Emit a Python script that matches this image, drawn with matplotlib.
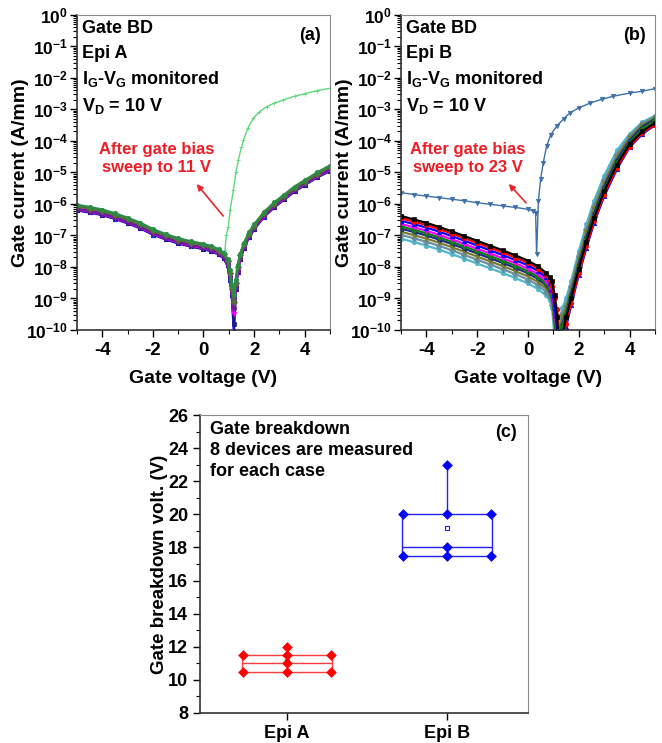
import matplotlib
matplotlib.use('Agg')
import matplotlib.pyplot as plt
import numpy as np
from matplotlib.ticker import LogLocator, FuncFormatter, MultipleLocator, NullFormatter

plt.rcParams['font.family'] = ['Liberation Sans', 'DejaVu Sans']
plt.rcParams['font.weight'] = 'bold'
plt.rcParams['axes.labelweight'] = 'bold'
plt.rcParams['mathtext.fontset'] = 'custom'
plt.rcParams['mathtext.rm'] = 'Liberation Sans:bold'
plt.rcParams['mathtext.bf'] = 'Liberation Sans:bold'
plt.rcParams['mathtext.it'] = 'Liberation Sans:bold:italic'
plt.rcParams['axes.unicode_minus'] = False

# ---- panel (a): Epi A, log10 of gate current (A/mm) vs gate voltage
va = [-5, -4.5, -4, -3.5, -3, -2.5, -2, -1.5, -1, -0.5, 0, 0.3, 0.6, 0.8, 0.95,
      1.05, 1.12, 1.2, 1.28, 1.35, 1.45, 1.6, 1.8, 2.0, 2.4, 2.8, 3.2, 3.6, 4.0, 4.5, 5.0]
a_blue = [-6.2, -6.27, -6.35, -6.47, -6.61, -6.77, -6.97, -7.12, -7.25, -7.35, -7.43, -7.5, -7.6, -7.73, -7.95,
          -8.4, -8.9, -10.0, -8.7, -8.15, -7.75, -7.4, -7.05, -6.8, -6.4, -6.1, -5.85, -5.6, -5.4, -5.15, -4.95]
a_navy = [-6.19, -6.26, -6.34, -6.46, -6.6, -6.76, -6.96, -7.11, -7.24, -7.34, -7.42, -7.49, -7.59, -7.72, -7.94,
          -8.38, -8.88, -9.8, -8.68, -8.14, -7.74, -7.39, -7.04, -6.79, -6.39, -6.09, -5.84, -5.59, -5.39, -5.14, -4.94]
a_magenta = [-6.17, -6.24, -6.32, -6.44, -6.58, -6.74, -6.94, -7.09, -7.22, -7.32, -7.4, -7.47, -7.57, -7.7, -7.92,
             -8.35, -8.85, -9.5, -8.65, -8.12, -7.72, -7.37, -7.02, -6.77, -6.37, -6.07, -5.82, -5.57, -5.37, -5.12, -4.92]
a_purple = [-6.15, -6.22, -6.3, -6.42, -6.56, -6.72, -6.92, -7.07, -7.2, -7.3, -7.38, -7.45, -7.55, -7.68, -7.9,
            -8.3, -8.8, -9.3, -8.6, -8.1, -7.7, -7.35, -7.0, -6.75, -6.35, -6.05, -5.8, -5.55, -5.35, -5.1, -4.9]
a_olive = [-6.08, -6.15, -6.23, -6.35, -6.49, -6.65, -6.85, -7.0, -7.13, -7.23, -7.31, -7.38, -7.48, -7.6, -7.8,
           -8.2, -8.7, -9.1, -8.5, -8.0, -7.62, -7.28, -6.94, -6.7, -6.3, -6.0, -5.75, -5.5, -5.3, -5.05, -4.83]
a_green = [-6.03, -6.1, -6.18, -6.3, -6.44, -6.6, -6.8, -6.96, -7.09, -7.19, -7.27, -7.34, -7.44, -7.56, -7.75,
           -8.1, -8.6, -8.9, -8.4, -7.95, -7.58, -7.24, -6.9, -6.65, -6.25, -5.95, -5.7, -5.45, -5.25, -5.0, -4.78]
# device after gate bias sweep to 11 V
va_bd = [0.85, 0.9, 0.98, 1.05, 1.18, 1.28, 1.38, 1.5, 1.58, 1.75, 1.97, 2.2, 2.5, 2.8, 3.15, 3.6, 4.0, 4.5, 5.0]
a_bd = [-7.46, -7.0, -6.72, -6.2, -5.56, -5.0, -4.6, -4.2, -3.97, -3.6, -3.28, -3.08, -2.91, -2.8, -2.7,
        -2.58, -2.5, -2.4, -2.33]

# ---- panel (b): Epi B
vb = [-5, -4.5, -4, -3.5, -3, -2.5, -2, -1.5, -1, -0.5, 0, 0.4, 0.7, 0.85, 0.95,
      1.05, 1.15, 1.25, 1.35, 1.5, 1.7, 2.0, 2.3, 2.6, 3.0, 3.5, 4.0, 4.5, 5.0]
b_black = [-6.38, -6.49, -6.6, -6.73, -6.87, -7.02, -7.17, -7.32, -7.47, -7.63, -7.8, -7.98, -8.18, -8.33, -8.45,
           -8.9, -9.6, -11, -10.2, -9.6, -9.0, -8.05, -7.2, -6.45, -5.6, -4.75, -4.1, -3.7, -3.42]
b_red = [-6.45, -6.56, -6.67, -6.8, -6.94, -7.09, -7.24, -7.39, -7.54, -7.7, -7.87, -8.05, -8.25, -8.42, -8.6,
         -9.0, -9.35, -11, -10.4, -9.8, -9.15, -8.2, -7.35, -6.55, -5.7, -4.85, -4.18, -3.75, -3.48]
b_blue = [-6.53, -6.64, -6.75, -6.88, -7.02, -7.17, -7.32, -7.47, -7.62, -7.78, -7.95, -8.13, -8.33, -8.5, -8.7,
          -9.3, -10.0, -11, -10.5, -9.9, -9.2, -8.25, -7.4, -6.6, -5.75, -4.9, -4.2, -3.78, -3.5]
b_magenta = [-6.63, -6.74, -6.85, -6.98, -7.12, -7.27, -7.42, -7.57, -7.72, -7.88, -8.05, -8.23, -8.43, -8.6, -8.85,
             -9.4, -10.2, -11, -10.4, -9.85, -9.2, -8.2, -7.35, -6.55, -5.7, -4.85, -4.15, -3.72, -3.45]
b_green = [-6.71, -6.82, -6.93, -7.06, -7.2, -7.35, -7.5, -7.65, -7.8, -7.96, -8.13, -8.31, -8.51, -8.68, -8.9,
           -9.5, -11, -10.3, -9.9, -9.5, -8.95, -8.0, -7.15, -6.4, -5.55, -4.7, -4.05, -3.62, -3.35]
b_navy = [-6.78, -6.89, -7.0, -7.13, -7.27, -7.42, -7.57, -7.72, -7.87, -8.03, -8.2, -8.38, -8.58, -8.75, -8.95,
          -9.6, -11, -10.2, -9.8, -9.45, -8.85, -7.9, -7.05, -6.3, -5.45, -4.6, -3.98, -3.55, -3.3]
b_olive = [-6.88, -6.99, -7.1, -7.23, -7.37, -7.52, -7.67, -7.82, -7.97, -8.13, -8.3, -8.48, -8.68, -8.85, -9.05,
           -9.8, -11, -10.0, -9.6, -9.3, -8.7, -7.75, -6.9, -6.15, -5.35, -4.5, -3.9, -3.5, -3.27]
b_teal = [-6.98, -7.09, -7.2, -7.33, -7.47, -7.62, -7.77, -7.92, -8.07, -8.23, -8.4, -8.58, -8.78, -8.95, -9.2,
          -10.0, -11, -9.9, -9.5, -9.2, -8.6, -7.65, -6.8, -6.05, -5.25, -4.42, -3.85, -3.45, -3.23]
b_cyan = [-7.1, -7.21, -7.32, -7.45, -7.59, -7.74, -7.89, -8.04, -8.19, -8.35, -8.52, -8.7, -8.9, -9.05, -9.3,
          -10.3, -11, -9.7, -9.3, -9.0, -8.45, -7.5, -6.65, -5.9, -5.1, -4.3, -3.78, -3.4, -3.2]
# device after gate bias sweep to 23 V
vb_bd = [-5, -4.5, -4, -3.5, -3, -2.5, -2, -1.5, -1, -0.5, 0, 0.2, 0.3, 0.34, 0.41, 0.5, 0.6, 0.73, 0.9,
         1.13, 1.4, 1.65, 2.0, 2.44, 2.9, 3.36, 4.0, 4.5, 5.0]
b_bd = [-5.64, -5.7, -5.75, -5.8, -5.85, -5.9, -5.96, -6.01, -6.06, -6.11, -6.17, -6.22, -6.28, -7.6, -5.9,
        -5.2, -4.7, -4.17, -3.8, -3.53, -3.3, -3.11, -2.95, -2.8, -2.68, -2.58, -2.48, -2.42, -2.34]

# ---- panel (c): gate breakdown voltage of 8 devices
groups = ['Epi A', 'Epi B']
epi_a_bd = [11.5, 10.5, 12, 11.5, 11, 10.5, 11.5, 10.5]
epi_b_bd = [20, 17.5, 23, 20, 18, 17.5, 20, 17.5]
center_lines = [11, 18]


def decade_fmt(v, pos):
    return r'$\mathrm{10^{%d}}$' % int(round(np.log10(v)))


def style_iv_axes(ax, label_x):
    ax.set_yscale('log')
    ax.set_xlim(-5, 5)
    ax.set_ylim(1e-10, 1)
    ax.yaxis.set_major_locator(LogLocator(base=10, numticks=20))
    ax.yaxis.set_minor_locator(LogLocator(base=10, subs=np.arange(2, 10), numticks=20))
    ax.yaxis.set_major_formatter(FuncFormatter(decade_fmt))
    ax.yaxis.set_minor_formatter(NullFormatter())
    ax.xaxis.set_minor_locator(MultipleLocator(1))
    ax.set_xticks([-4, -2, 0, 2, 4])
    ax.tick_params(which='major', direction='out', length=5, width=1)
    ax.tick_params(which='minor', direction='out', length=3, width=0.8)
    ax.tick_params(axis='x', labelsize=13.5)
    ax.tick_params(axis='y', labelsize=12.5, pad=1.5)
    ax.set_xlabel('Gate voltage (V)', fontsize=14, labelpad=8)
    ax.set_ylabel('Gate current (A/mm)', fontsize=14)
    ax.yaxis.set_label_coords(label_x, 0.5)
    for s in ['top', 'right']:
        ax.spines[s].set_color('#8a8a8a')
    for s in ['left', 'bottom']:
        ax.spines[s].set_color('#333333')
        ax.spines[s].set_linewidth(1.2)


def lg(vals):
    return 10 ** np.array(vals, dtype=float)


fig = plt.figure(figsize=(6.62, 7.43), dpi=100)
ax_a = fig.add_axes([0.1163, 0.5559, 0.3822, 0.424])
ax_b = fig.add_axes([0.6057, 0.5559, 0.3837, 0.424])
ax_c = fig.add_axes([0.3021, 0.0404, 0.4955, 0.401])

# (a)
a_curves = [(a_blue, '#0000ff', '^'), (a_navy, '#1a1a80', 's'), (a_magenta, '#ff00ff', 'v'),
            (a_purple, '#6a1b9a', 'o'), (a_olive, '#5b6b3a', 'D'), (a_green, '#2e8b45', 'o')]
for vals, col, mk in a_curves:
    ax_a.plot(va, lg(vals), color=col, lw=1.8, marker=mk, ms=3.2, mew=0.5)
ax_a.plot(va_bd, lg(a_bd), color='#5fd77a', lw=1.0, marker='+', ms=3.5, mew=0.6)
style_iv_axes(ax_a, -0.19)

# (b)
b_curves = [(b_cyan, '#4fb6cc', 'o'), (b_teal, '#6a8fa0', 'D'), (b_olive, '#7a7a30', 'v'),
            (b_navy, '#1a2a80', '<'), (b_green, '#117a1a', 'D'), (b_magenta, '#ff00ff', 'v'),
            (b_blue, '#0000ff', '^'), (b_red, '#ff0000', 'o'), (b_black, '#000000', 's')]
for vals, col, mk in b_curves:
    ax_b.plot(vb, lg(vals), color=col, lw=1.6, marker=mk, ms=3.2, mew=0.5)
ax_b.plot(vb_bd, lg(b_bd), color='#3d6fa8', lw=1.0, marker='v', ms=3.2, mew=0.5)
style_iv_axes(ax_b, -0.19)

# labels and annotations on (a), (b)
for ax, epi, sweep, tip, tail, txt, tag in [
        (ax_a, 'Epi A', '11 V', (-0.34, 10 ** -5.3), (0.85, 10 ** -6.45), (-1.84, 10 ** -4.55), '(a)'),
        (ax_b, 'Epi B', '23 V', (-0.83, 10 ** -5.3), (0.0, 10 ** -6.03), (-2.36, 10 ** -4.55), '(b)')]:
    kw = dict(transform=ax.transAxes, fontsize=13, fontweight='bold', va='center', ha='left')
    ax.text(0.02, 0.958, 'Gate BD', **kw)
    ax.text(0.02, 0.877, epi, **kw)
    ax.text(0.02, 0.797, r'I$_\mathrm{G}$-V$_\mathrm{G}$ monitored', **kw)
    ax.text(0.02, 0.712, r'V$_\mathrm{D}$ = 10 V', **kw)
    ax.text(0.965, 0.935, tag, transform=ax.transAxes, fontsize=13, fontweight='bold', va='center', ha='right')
    ax.annotate('', xy=tip, xytext=tail,
                arrowprops=dict(arrowstyle='-|>', color='#e8262a', lw=1.2, mutation_scale=9))
    ax.text(txt[0], txt[1], 'After gate bias\nsweep to ' + sweep, color='#ee1c25', fontsize=12,
            fontweight='bold', ha='center', va='center', linespacing=1.25)

# (c)
pos = [1, 2]
bp = ax_c.boxplot([epi_a_bd, epi_b_bd], positions=pos, widths=0.56, whis=(0, 100),
                  usermedians=center_lines, showcaps=False, showfliers=False, showmeans=True,
                  patch_artist=False, manage_ticks=False)
box_cols = ['#ff3b3b', '#2020ff']
for i, col in enumerate(box_cols):
    for art in [bp['boxes'][i], bp['medians'][i], bp['whiskers'][2 * i], bp['whiskers'][2 * i + 1]]:
        art.set_color(col)
        art.set_linewidth(1.0)
    bp['means'][i].set_marker('s')
    bp['means'][i].set_markerfacecolor('none')
    bp['means'][i].set_markeredgecolor(col)
    bp['means'][i].set_markersize(3.5)
    bp['means'][i].set_markeredgewidth(0.8)
    bp['means'][i].set_zorder(1)

offsets = [-0.275, -0.275, 0, 0, 0, 0, 0.275, 0.275]
for p, vals, col in zip(pos, [epi_a_bd, epi_b_bd], ['#ff0000', '#0000ff']):
    ax_c.scatter([p + o for o in offsets], vals, marker='D', s=30, color=col, zorder=3, linewidths=0)

ax_c.set_xlim(0.456, 2.506)
ax_c.set_ylim(8, 26)
ax_c.set_xticks(pos)
ax_c.set_xticklabels(groups)
ax_c.yaxis.set_major_locator(MultipleLocator(2))
ax_c.yaxis.set_minor_locator(MultipleLocator(1))
ax_c.tick_params(which='major', direction='out', length=5, width=1, labelsize=13)
ax_c.tick_params(which='minor', direction='out', length=3, width=0.8)
ax_c.set_ylabel('Gate breakdown volt. (V)', fontsize=13.5)
ax_c.yaxis.set_label_coords(-0.098, 0.5)
for s in ['top', 'right']:
    ax_c.spines[s].set_color('#8a8a8a')
for s in ['left', 'bottom']:
    ax_c.spines[s].set_color('#333333')
    ax_c.spines[s].set_linewidth(1.2)
ax_c.text(0.03, 0.98, 'Gate breakdown\n8 devices are measured\nfor each case', transform=ax_c.transAxes,
          fontsize=13, fontweight='bold', va='top', ha='left', linespacing=1.3)
ax_c.text(0.965, 0.94, '(c)', transform=ax_c.transAxes, fontsize=13, fontweight='bold',
          va='center', ha='right')

fig.savefig('out.png', dpi=100)
